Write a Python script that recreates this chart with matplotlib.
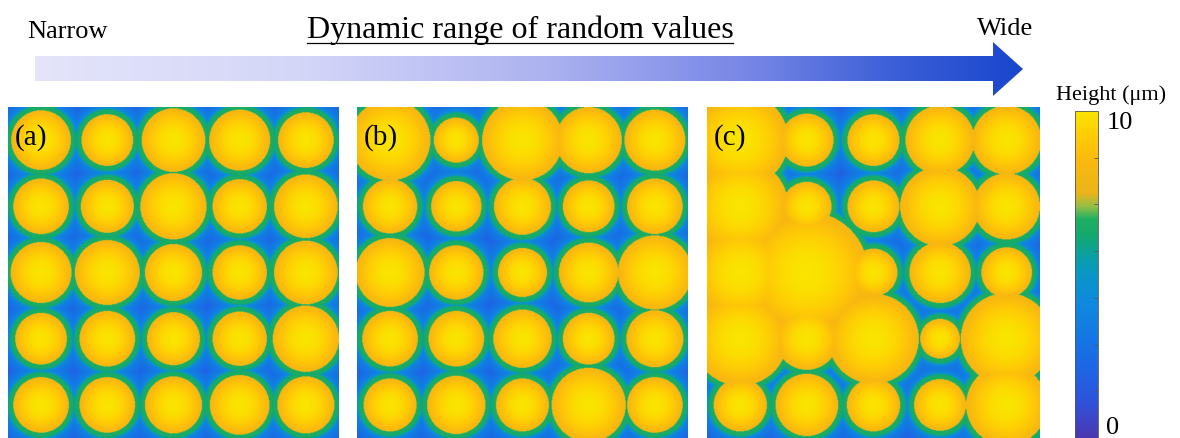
import numpy as np
import matplotlib
matplotlib.use("Agg")
import matplotlib.pyplot as plt
from matplotlib.colors import LinearSegmentedColormap, Normalize
from matplotlib.patches import Polygon
from matplotlib.cm import ScalarMappable

plt.rcParams['font.family'] = ['Liberation Serif', 'DejaVu Serif']

W, H = 1180, 439

# dome radii on the 5x5 grid (in units of the grid pitch), row by row from the top
radii_a = [
    [0.45, 0.39, 0.48, 0.46, 0.42],
    [0.42, 0.40, 0.50, 0.41, 0.48],
    [0.46, 0.49, 0.43, 0.41, 0.48],
    [0.39, 0.42, 0.40, 0.41, 0.50],
    [0.42, 0.42, 0.43, 0.45, 0.43],
]
radii_b = [
    [0.61, 0.34, 0.61, 0.50, 0.46],
    [0.41, 0.38, 0.43, 0.39, 0.42],
    [0.52, 0.41, 0.37, 0.45, 0.56],
    [0.42, 0.42, 0.44, 0.39, 0.43],
    [0.40, 0.44, 0.40, 0.56, 0.42],
]
radii_c = [
    [0.72, 0.40, 0.39, 0.52, 0.52],
    [0.72, 0.37, 0.39, 0.60, 0.50],
    [0.70, 0.92, 0.36, 0.46, 0.38],
    [0.71, 0.47, 0.68, 0.30, 0.69],
    [0.40, 0.47, 0.40, 0.39, 0.61],
]
panel_labels = ["(a)", "(b)", "(c)"]
h_min, h_max = 0, 10

# height colour scale
cmap_nodes = [
    (0.0, (75, 55, 175)),
    (1.0, (50, 80, 215)),
    (2.0, (30, 100, 228)),
    (3.0, (20, 118, 228)),
    (4.0, (15, 135, 222)),
    (5.0, (10, 150, 200)),
    (5.6, (10, 160, 160)),
    (6.2, (20, 168, 110)),
    (6.7, (30, 175, 95)),
    (7.1, (150, 190, 70)),
    (7.5, (235, 180, 25)),
    (8.5, (250, 185, 15)),
    (9.3, (255, 205, 5)),
    (10.0, (250, 228, 0)),
]
height_cmap = LinearSegmentedColormap.from_list(
    "height", [(v / 10, tuple(c / 255 for c in rgb)) for v, rgb in cmap_nodes])


def height_map(radii, n=500):
    radii = np.asarray(radii)
    t = (np.arange(n) + 0.5) / n * 5
    X, Y = np.meshgrid(t, t)
    field = np.full(X.shape, -np.inf)
    for i in range(5):
        for j in range(5):
            R = radii[i, j]
            r = np.hypot(X - (j + 0.5), Y - (i + 0.5))
            d = r - R
            inside = 8.1 + 1.9 * (1 - (r / R) ** 2)
            ring = 2.6 / (1 + np.exp((d - 0.085) / 0.01))
            outside = 3.9 + ring - 10 * np.clip(d - 0.09, 0, None)
            field = np.maximum(field, np.where(d < 0, inside, outside))
    return np.clip(field, h_min, h_max)


def px_axes(fig, x0, y0, x1, y1):
    return fig.add_axes([x0 / W, 1 - y1 / H, (x1 - x0) / W, (y1 - y0) / H])


fig = plt.figure(figsize=(W / 100, H / 100), dpi=100)

# overlay for the arrow and headings
top = px_axes(fig, 0, 0, W, H)
top.set_xlim(0, W)
top.set_ylim(H, 0)
top.axis("off")

arrow = Polygon([(35, 57), (993, 57), (993, 43), (1023, 70), (993, 97), (993, 82), (35, 82)],
                closed=True, facecolor="none", edgecolor="none")
top.add_patch(arrow)
grad_nodes = [(0.0, (228, 228, 250)), (0.27, (212, 214, 248)), (0.52, (172, 178, 240)),
              (0.72, (120, 135, 230)), (0.87, (60, 95, 215)), (1.0, (25, 70, 205))]
grad_cmap = LinearSegmentedColormap.from_list(
    "arrow", [(p, tuple(c / 255 for c in rgb)) for p, rgb in grad_nodes])
grad = np.linspace(0, 1, 512)[None, :]
im = top.imshow(grad, cmap=grad_cmap, extent=[35, 1023, 97, 43], aspect="auto")
im.set_clip_path(arrow)

top.text(27, 38, "Narrow", fontsize=19, ha="left", va="baseline")
title = top.text(520, 38, "Dynamic range of random values", fontsize=23, ha="center", va="baseline")
top.text(1033, 35, "Wide", fontsize=19, ha="right", va="baseline")
top.text(1111, 100, "Height (\u03bcm)", fontsize=16, ha="center", va="baseline")

# underline the heading
fig.canvas.draw()
bb = title.get_window_extent().transformed(top.transData.inverted())
top.plot([bb.x0, bb.x1], [44, 44], color="black", lw=0.9)

panel_boxes = [(8, 339), (357, 688), (707, 1040)]
for (x0, x1), radii, label in zip(panel_boxes, [radii_a, radii_b, radii_c], panel_labels):
    ax = px_axes(fig, x0, 108, x1, 439)
    ax.imshow(height_map(radii), cmap=height_cmap, vmin=h_min, vmax=h_max,
              extent=[0, 5, 5, 0], interpolation="bilinear", aspect="auto")
    ax.set_xlim(0, 5)
    ax.set_ylim(5, 0)
    ax.axis("off")
    ax.text(0.1, 0.45, label, fontsize=21, ha="left", va="center")

cax = px_axes(fig, 1075, 112, 1098, 439)
cb = fig.colorbar(ScalarMappable(norm=Normalize(h_min, h_max), cmap=height_cmap), cax=cax)
cb.outline.set_linewidth(0.6)
cb.outline.set_edgecolor("#555555")
cb.set_ticks([h_min, h_max])
cb.ax.yaxis.set_ticks(np.linspace(h_min, h_max, 8), minor=True)
cb.ax.tick_params(which="major", length=0, labelsize=19, pad=6)
cb.ax.tick_params(which="minor", direction="in", length=3, width=0.6, color="#555555")
labels = cb.ax.set_yticklabels(["0", "10"])
labels[0].set_va("bottom")
labels[1].set_va("top")

fig.savefig("out.png", dpi=100)
